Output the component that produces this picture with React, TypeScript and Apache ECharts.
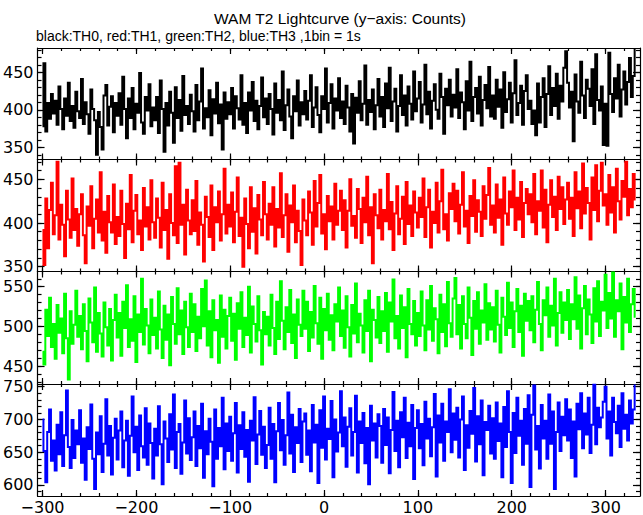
import React, { useEffect, useRef } from "react";
import * as echarts from "echarts";

// Bin timing (1 value every 2 s, starting at -300 s)
const binStart = -300;
const binWidth = 2;

// TH0 (black) counts
const th0 = [
  378, 462, 371, 409, 388, 421, 395, 412, 380, 431, 401, 374, 415, 392, 436, 385, 405, 376, 424, 398,
  389, 441, 381, 410, 394, 368, 427, 401, 386, 340, 397, 377, 347, 419, 433, 379, 404, 418, 370, 409,
  392, 422, 380, 444, 401, 362, 415, 389, 429, 374, 408, 396, 449, 383, 368, 417, 399, 434, 378, 403,
  386, 417, 369, 439, 401, 344, 409, 379, 424, 396, 356, 430, 389, 413, 372, 445, 393, 405, 381, 420,
  398, 371, 433, 386, 411, 455, 375, 402, 390, 426, 366, 414, 395, 436, 382, 407, 347, 423, 388, 410,
  394, 429, 375, 418, 402, 387, 446, 380, 409, 369, 423, 399, 437, 385, 412, 374, 405, 443, 390, 415,
  381, 421, 401, 367, 435, 396, 413, 386, 451, 373, 406, 427, 391, 362, 418, 398, 439, 379, 410, 394,
  425, 387, 412, 446, 377, 403, 430, 393, 370, 418, 401, 455, 383, 409, 434, 375, 415, 399, 442, 389,
  411, 381, 432, 403, 371, 421, 355, 416, 396, 438, 386, 408, 459, 380, 413, 397, 427, 374, 406, 441,
  391, 417, 377, 435, 402, 456, 385, 411, 428, 371, 405, 446, 393, 419, 379, 431, 408, 387, 451, 398,
  415, 437, 383, 407, 460, 394, 424, 375, 412, 434, 400, 388, 448, 417, 368, 428, 406, 440, 391, 420,
  403, 454, 389, 423, 410, 374, 438, 399, 464, 385, 417, 429, 395, 444, 379, 413, 433, 402, 457, 391,
  419, 388, 440, 404, 427, 376, 450, 397, 414, 436, 383, 422, 466, 393, 409, 432, 380, 425, 446, 401,
  412, 381, 399, 366, 435, 383, 417, 442, 377, 421, 458, 393, 429, 405, 448, 388, 432, 411, 456, 478,
  436, 403, 424, 358, 447, 411, 396, 464, 419, 389, 440, 428, 405, 454, 381, 474, 413, 399, 431, 353,
  408, 352, 476, 421, 397, 442, 415, 460, 391, 427, 451, 407, 437, 469, 417, 445, 480,
];

// TH1 (red) counts
const th1 = [
  392, 352, 428, 371, 415, 446, 387, 409, 470, 381, 421, 398, 362, 437, 404, 383, 451, 392, 416, 374,
  410, 433, 386, 354, 419, 397, 442, 371, 405, 427, 389, 458, 380, 413, 366, 431, 401, 389, 444, 376,
  407, 385, 437, 399, 360, 422, 393, 455, 378, 414, 432, 387, 403, 369, 440, 396, 418, 381, 449, 401,
  383, 428, 406, 372, 446, 392, 415, 359, 433, 400, 386, 465, 377, 469, 398, 421, 364, 438, 403, 387,
  426, 391, 448, 375, 412, 398, 356, 430, 407, 384, 443, 369, 418, 401, 436, 380, 410, 462, 388, 421,
  396, 435, 378, 413, 452, 385, 406, 350, 428, 399, 371, 441, 390, 417, 365, 432, 404, 386, 447, 410,
  381, 422, 398, 441, 373, 416, 395, 457, 384, 409, 433, 367, 420, 401, 443, 378, 414, 391, 352, 427,
  403, 386, 436, 412, 375, 448, 396, 423, 455, 388, 410, 370, 431, 402, 419, 381, 445, 398, 414, 437,
  392, 426, 372, 414, 450, 397, 408, 383, 439, 416, 377, 429, 401, 453, 386, 418, 354, 433, 409, 394,
  438, 381, 415, 402, 456, 393, 424, 369, 411, 442, 387, 405, 430, 376, 447, 399, 420, 385, 436, 412,
  395, 429, 407, 451, 384, 418, 438, 372, 413, 400, 446, 389, 425, 461, 393, 410, 380, 434, 416, 445,
  402, 437, 388, 421, 458, 396, 414, 377, 431, 408, 449, 390, 426, 413, 385, 442, 405, 432, 463, 398,
  420, 389, 444, 406, 427, 375, 452, 411, 398, 436, 418, 460, 392, 429, 404, 447, 384, 423, 439, 410,
  433, 401, 456, 387, 425, 414, 460, 395, 438, 378, 421, 449, 407, 430, 392, 453, 416, 441, 399, 427,
  446, 405, 429, 385, 458, 417, 436, 394, 468, 411, 440, 423, 381, 452, 415, 466, 402, 437, 469, 420,
  433, 398, 455, 412, 441, 389, 462, 425, 404, 448, 430, 470, 409, 439, 418, 456, 427,
];

// TH2 (green) counts
const th2 = [
  468, 452, 521, 488, 536, 474, 503, 459, 527, 492, 510, 466, 541, 485, 433, 519, 478, 502, 545, 487,
  513, 471, 528, 494, 456, 535, 505, 480, 549, 468, 517, 491, 462, 530, 499, 476, 522, 457, 508, 540,
  486, 517, 463, 531, 498, 552, 474, 509, 482, 538, 455, 515, 493, 560, 477, 522, 501, 466, 534, 489,
  511, 472, 544, 496, 460, 526, 483, 515, 451, 537, 503, 478, 548, 490, 520, 465, 531, 499, 474, 541,
  493, 528, 469, 512, 485, 547, 500, 558, 476, 519, 461, 533, 495, 508, 454, 539, 487, 521, 472, 513,
  536, 482, 516, 458, 529, 497, 543, 474, 511, 489, 550, 467, 525, 503, 481, 538, 495, 452, 518, 490,
  512, 476, 540, 498, 465, 531, 484, 557, 507, 471, 524, 493, 546, 479, 515, 460, 534, 502, 488, 545,
  497, 531, 469, 518, 486, 551, 504, 478, 536, 459, 522, 495, 541, 483, 514, 470, 528, 506, 549, 488,
  520, 473, 538, 499, 462, 527, 491, 554, 480, 516, 501, 467, 533, 494, 545, 456, 521, 508, 486, 537,
  479, 519, 494, 542, 468, 530, 506, 559, 485, 513, 472, 539, 498, 524, 461, 547, 503, 490, 532, 476,
  517, 488, 544, 501, 470, 533, 496, 551, 482, 523, 509, 466, 540, 493, 528, 475, 556, 504, 487, 535,
  561, 490, 527, 472, 538, 503, 485, 549, 511, 464, 532, 497, 543, 478, 520, 505, 553, 483, 529, 496,
  524, 481, 545, 502, 467, 536, 512, 489, 555, 498, 530, 474, 519, 547, 493, 526, 463, 541, 507, 532,
  495, 538, 480, 521, 556, 503, 470, 533, 514, 549, 487, 526, 501, 560, 476, 517, 543, 492, 530, 508,
  546, 484, 528, 509, 562, 497, 539, 472, 523, 551, 490, 534, 515, 479, 548, 506, 557, 488, 531, 520,
  565, 498, 542, 510, 568, 487, 533, 519, 554, 471, 537, 505, 560, 493, 528, 547, 512,
];

// TH3 (blue) counts
const th3 = [
  700, 652, 604, 681, 715, 637, 668, 622, 692, 647, 711, 629, 676, 744, 658, 626, 699, 641, 683, 662,
  714, 634, 671, 608, 688, 655, 723, 640, 594, 680, 647, 705, 620, 663, 731, 645, 690, 616, 672, 701,
  639, 683, 712, 627, 668, 698, 614, 675, 735, 650, 689, 623, 706, 659, 642, 717, 631, 694, 664, 610,
  686, 645, 720, 662, 601, 697, 671, 635, 708, 654, 738, 626, 681, 693, 617, 665, 729, 648, 702, 638,
  673, 712, 629, 690, 656, 724, 611, 682, 647, 701, 666, 598, 715, 640, 687, 659, 733, 624, 694, 652,
  704, 637, 679, 725, 619, 691, 655, 711, 643, 684, 605, 698, 668, 734, 632, 677, 713, 646, 689, 626,
  661, 718, 640, 693, 604, 682, 725, 653, 699, 631, 676, 741, 648, 707, 620, 688, 664, 716, 635, 697,
  709, 646, 683, 621, 722, 665, 692, 603, 714, 657, 735, 639, 686, 670, 728, 612, 700, 651, 680, 743,
  659, 703, 628, 689, 717, 645, 681, 736, 619, 697, 664, 710, 633, 687, 601, 721, 668, 694, 642, 708,
  690, 634, 716, 661, 703, 618, 684, 742, 652, 698, 627, 711, 673, 733, 641, 695, 659, 722, 609, 687,
  714, 656, 693, 630, 727, 671, 701, 644, 688, 739, 613, 706, 665, 724, 637, 697, 681, 746, 650, 709,
  669, 718, 642, 700, 735, 623, 691, 657, 713, 678, 748, 636, 705, 662, 729, 615, 696, 684, 721, 648,
  702, 640, 726, 667, 694, 612, 719, 658, 743, 681, 603, 710, 649, 733, 675, 698, 631, 716, 663, 737,
  597, 707, 752, 654, 690, 625, 722, 671, 698, 640, 738, 663, 712, 594, 681, 726, 652, 704, 676, 731,
  668, 715, 641, 697, 613, 724, 685, 740, 656, 709, 677, 733, 649, 692, 753, 662, 718, 688, 703, 727,
  750, 671, 712, 645, 733, 696, 679, 721, 658, 740, 686, 707, 668, 729, 694, 715, 752,
];

const seriesNames = ["TH0", "TH1", "TH2", "TH3"];
const seriesColors = ["#000000", "#ff0000", "#00ff00", "#0000ff"];
const seriesData = [th0, th1, th2, th3];

// Axis tick labels
const xMajorTicks = [-300, -200, -100, 0, 100, 200, 300];
const xMinorTicks = [
  -300, -280, -260, -240, -220, -200, -180, -160, -140, -120, -100, -80, -60, -40, -20,
  0, 20, 40, 60, 80, 100, 120, 140, 160, 180, 200, 220, 240, 260, 280, 300, 320,
];
const yMajorTicks = [
  [350, 400, 450],
  [350, 400, 450],
  [450, 500, 550],
  [600, 650, 700, 750],
];
const yMinorTicks = [
  [340, 350, 360, 370, 380, 390, 400, 410, 420, 430, 440, 450, 460, 470, 480],
  [350, 360, 370, 380, 390, 400, 410, 420, 430, 440, 450, 460, 470],
  [430, 440, 450, 460, 470, 480, 490, 500, 510, 520, 530, 540, 550, 560],
  [590, 600, 610, 620, 630, 640, 650, 660, 670, 680, 690, 700, 710, 720, 730, 740, 750],
];
const yMins = [333.7, 344.5, 427.3, 583.2];
const yMaxs = [482.4, 472.7, 569.2, 754.1];
const xMin = -305.3;
const xMax = 336.7;

const titleText = "WAM T2 Lightcurve (y\u2212axis: Counts)";
const subtitleText = "black:TH0, red:TH1, green:TH2, blue:TH3 ,1bin = 1s";

// layout
const gridTops = [48, 159.5, 271.5, 384];
const gridBottoms = [159.5, 271.5, 384, 496];
const labelFont = "DejaVu Sans";

const fmtX = (v: number) => (v < 0 ? "\u2212" + Math.abs(v) : String(v));

export default function App() {
  const ref = useRef<HTMLDivElement>(null);
  useEffect(() => {
    document.body.style.margin = "0";
    if (!ref.current) return;
    const chart = echarts.init(ref.current, undefined, { renderer: "svg" });

    const grids = gridTops.map((t, i) => ({
      left: 37,
      right: 3,
      top: t,
      height: gridBottoms[i] - t,
    }));

    const xAxes: any[] = [];
    const yAxes: any[] = [];
    for (let g = 0; g < 4; g++) {
      for (const pos of ["bottom", "top"]) {
        for (const major of [true, false]) {
          xAxes.push({
            type: "value",
            gridIndex: g,
            position: pos,
            min: xMin,
            max: xMax,
            axisLine: { show: major, onZero: false, lineStyle: { color: "#000", width: 1.2 } },
            axisTick: {
              show: true,
              inside: true,
              length: major ? 6 : 3,
              customValues: major ? xMajorTicks : xMinorTicks,
              lineStyle: { color: "#000", width: 1.2 },
            },
            axisLabel: {
              show: major && pos === "bottom" && g === 3,
              customValues: xMajorTicks,
              formatter: fmtX,
              fontFamily: labelFont,
              fontSize: 16,
              color: "#000",
              margin: 3,
            },
            splitLine: { show: false },
          });
        }
      }
      for (const pos of ["left", "right"]) {
        for (const major of [true, false]) {
          yAxes.push({
            type: "value",
            gridIndex: g,
            position: pos,
            min: yMins[g],
            max: yMaxs[g],
            axisLine: { show: major, onZero: false, lineStyle: { color: "#000", width: 1.2 } },
            axisTick: {
              show: true,
              inside: true,
              length: major ? 7 : 4,
              customValues: major ? yMajorTicks[g] : yMinorTicks[g],
              lineStyle: { color: "#000", width: 1.2 },
            },
            axisLabel: {
              show: major && pos === "left",
              customValues: yMajorTicks[g],
              fontFamily: labelFont,
              fontSize: 16,
              color: "#000",
              margin: 4,
            },
            splitLine: { show: false },
          });
        }
      }
    }

    const series = seriesData.map((arr, g) => ({
      name: seriesNames[g],
      type: "line",
      xAxisIndex: g * 4,
      yAxisIndex: g * 4,
      step: "middle",
      showSymbol: false,
      symbol: "none",
      clip: true,
      lineStyle: { color: seriesColors[g], width: 2, join: "miter", cap: "butt" },
      itemStyle: { color: seriesColors[g] },
      data: arr.map((v, i) => [binStart + i * binWidth, v]),
    }));

    chart.setOption({
      animation: false,
      backgroundColor: "#ffffff",
      grid: grids,
      xAxis: xAxes,
      yAxis: yAxes,
      series,
      graphic: [
        {
          type: "text",
          x: 340,
          y: 18,
          style: {
            text: titleText,
            font: '15.5px "Liberation Sans", Arial, sans-serif',
            fill: "#000",
            textAlign: "center",
            textVerticalAlign: "middle",
          },
        },
        {
          type: "text",
          x: 36,
          y: 36,
          style: {
            text: subtitleText,
            font: '14px "Liberation Sans", Arial, sans-serif',
            fill: "#000",
            textAlign: "left",
            textVerticalAlign: "middle",
          },
        },
      ],
    });
    return () => chart.dispose();
  }, []);
  return <div ref={ref} style={{ width: 643, height: 515 }} />;
}
